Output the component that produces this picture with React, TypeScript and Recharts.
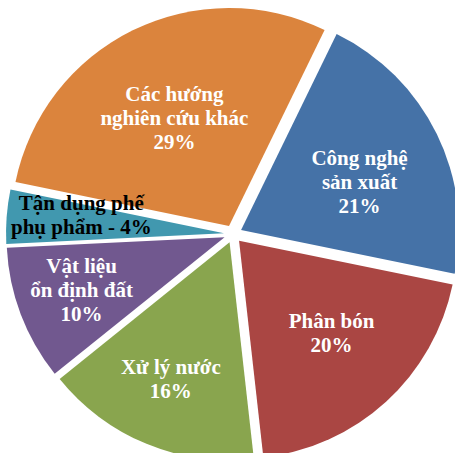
import React from "react";
import { PieChart, Pie, Cell, Sector } from "recharts";

const categories = [
  "Công nghệ sản xuất",
  "Phân bón",
  "Xử lý nước",
  "Vật liệu ổn định đất",
  "Tận dụng phế phụ phẩm",
  "Các hướng nghiên cứu khác",
];
const shares = [21, 20, 16, 10, 4, 29];
const labelLines = [
  ["Công nghệ", "sản xuất", "21%"],
  ["Phân bón", "20%"],
  ["Xử lý nước", "16%"],
  ["Vật liệu", "ổn định đất", "10%"],
  ["Tận dụng phế", "phụ phẩm - 4%"],
  ["Các hướng", "nghiên cứu khác", "29%"],
];
const colors = ["#4572A7", "#AA4643", "#89A54E", "#71588F", "#4198AF", "#DB843D"];

const data = categories.map((name, i) => ({ name, value: shares[i] }));

// explosion and "best fit" label placement per slice
const EXPLODE = 9;
const labelRadius = [0.587, 0.598, 0.683, 0.7, 0.66, 0.555];
const labelAngleShift = [-3.7, 2.6, -0.8, -0.4, -2.8, 0.6];
const labelColor = ["#fff", "#fff", "#fff", "#fff", "#000", "#fff"];
const RAD = Math.PI / 180;

const ExplodedSector = (props: any) => {
  const { cx, cy, midAngle } = props;
  const dx = EXPLODE * Math.cos(-midAngle * RAD);
  const dy = EXPLODE * Math.sin(-midAngle * RAD);
  return <Sector {...props} cx={cx + dx} cy={cy + dy} stroke="none" />;
};

const renderLabel = (props: any) => {
  const { cx, cy, midAngle, outerRadius, index } = props;
  const r = EXPLODE + outerRadius * labelRadius[index];
  const a = (midAngle + labelAngleShift[index]) * RAD;
  const x = cx + r * Math.cos(-a);
  const y = cy + r * Math.sin(-a);
  const lines = labelLines[index];
  const top = y - ((lines.length - 1) * 24) / 2 + 7;
  return (
    <text
      key={`lbl-${index}`}
      textAnchor="middle"
      fill={labelColor[index]}
      fontFamily="'Liberation Serif', 'Times New Roman', serif"
      fontWeight="bold"
      fontSize={21}
    >
      {lines.map((line, j) => (
        <tspan key={j} x={x} y={top + j * 24}>
          {line}
        </tspan>
      ))}
    </text>
  );
};

export default function App() {
  return (
    <div style={{ position: "absolute", left: 0, top: 0, background: "#fff" }}>
      <PieChart width={455} height={453} margin={{ top: 0, right: 0, bottom: 0, left: 0 }}>
        <Pie
          data={data}
          dataKey="value"
          nameKey="name"
          cx={233}
          cy={234}
          outerRadius={218}
          startAngle={64}
          endAngle={-296}
          stroke="none"
          shape={ExplodedSector}
          activeShape={ExplodedSector}
          inactiveShape={ExplodedSector}
          label={renderLabel}
          labelLine={false}
          isAnimationActive={false}
        >
          {data.map((entry, i) => (
            <Cell key={`cell-${i}`} fill={colors[i]} />
          ))}
        </Pie>
      </PieChart>
    </div>
  );
}
